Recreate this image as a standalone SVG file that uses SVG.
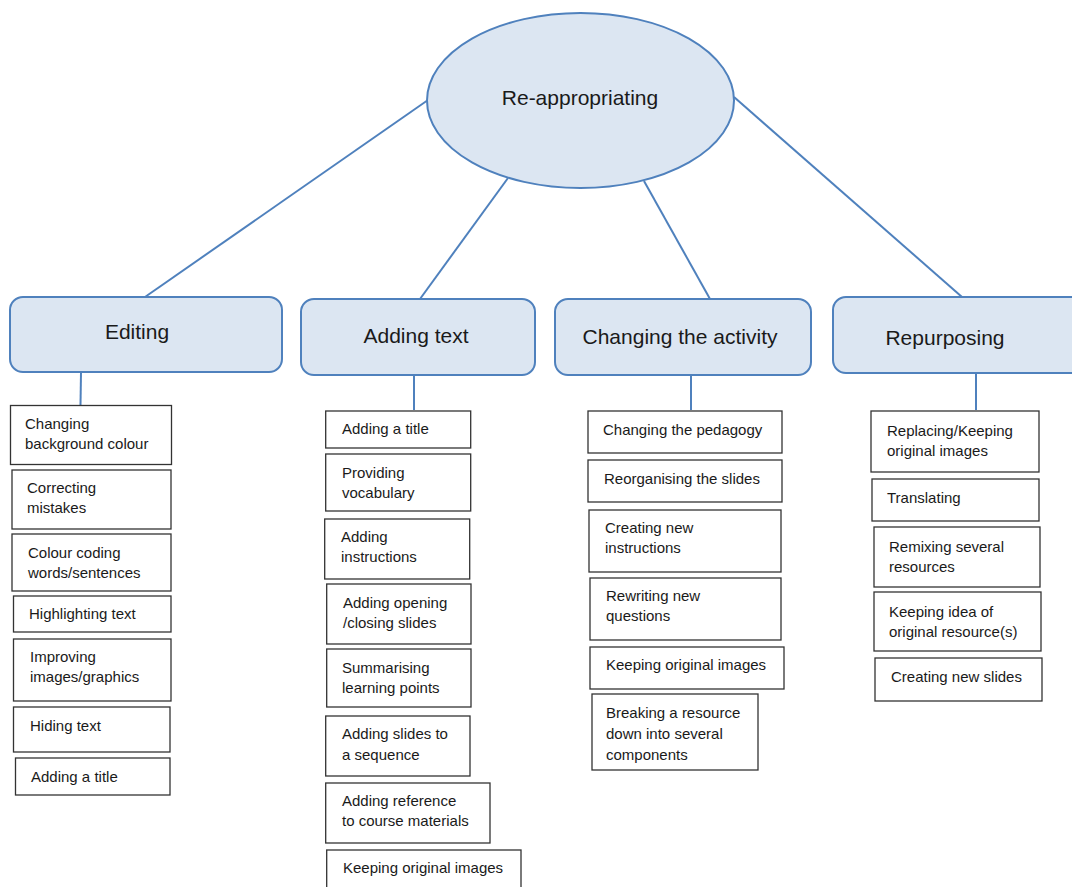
<svg xmlns="http://www.w3.org/2000/svg" width="1072" height="887" viewBox="0 0 1072 887">
<style>
.bg{fill:#ffffff}
.hub{fill:#dce6f2;stroke:#4f81bd;stroke-width:2}
.cat{fill:#dce6f2;stroke:#4f81bd;stroke-width:2}
.leaf{fill:#ffffff;stroke:#333333;stroke-width:1.3}
.conn{stroke:#4f81bd;stroke-width:2;fill:none}
.t1{font-family:"Liberation Sans",Arial,sans-serif;font-size:21px;fill:#1a1a1a;text-anchor:middle}
.t2{font-family:"Liberation Sans",Arial,sans-serif;font-size:15px;fill:#1a1a1a}
</style>
<rect class="bg" x="0" y="0" width="1072" height="887"/>
<g id="connectors">
<line class="conn" x1="428" y1="100" x2="145" y2="297"/>
<line class="conn" x1="508" y1="178" x2="420" y2="299"/>
<line class="conn" x1="644" y1="181" x2="710" y2="299"/>
<line class="conn" x1="734" y1="97" x2="962" y2="297"/>
<line class="conn" x1="81" y1="372" x2="80.5" y2="405"/>
<line class="conn" x1="414" y1="375" x2="414" y2="410"/>
<line class="conn" x1="691" y1="375" x2="691" y2="410"/>
<line class="conn" x1="976" y1="373" x2="976" y2="410"/>
</g>
<g id="hub">
<ellipse class="hub" cx="580.5" cy="100.5" rx="153.5" ry="87.5"/>
<text class="t1" x="580" y="105">Re-appropriating</text>
</g>
<g id="editing">
<rect class="cat" x="10" y="297" width="272" height="75" rx="13"/>
<text class="t1" x="137" y="339">Editing</text>
</g>
<g id="adding-text">
<rect class="cat" x="301" y="299" width="234" height="76" rx="13"/>
<text class="t1" x="416" y="343">Adding text</text>
</g>
<g id="changing-activity">
<rect class="cat" x="555" y="299" width="256" height="76" rx="13"/>
<text class="t1" x="680" y="344">Changing the activity</text>
</g>
<g id="repurposing">
<rect class="cat" x="833" y="297" width="262" height="76" rx="13"/>
<text class="t1" x="945" y="345">Repurposing</text>
</g>
<g id="e1"><rect class="leaf" x="10.5" y="405.5" width="161" height="59"/><text class="t2" x="25" y="429">Changing</text><text class="t2" x="25" y="449">background colour</text></g>
<g id="e2"><rect class="leaf" x="12" y="470" width="159" height="59"/><text class="t2" x="27" y="493">Correcting</text><text class="t2" x="27" y="513">mistakes</text></g>
<g id="e3"><rect class="leaf" x="12" y="534" width="159" height="57"/><text class="t2" x="28" y="558">Colour coding</text><text class="t2" x="28" y="578">words/sentences</text></g>
<g id="e4"><rect class="leaf" x="13.5" y="596" width="157.5" height="36"/><text class="t2" x="29" y="619">Highlighting text</text></g>
<g id="e5"><rect class="leaf" x="13.5" y="639" width="157.5" height="62"/><text class="t2" x="30" y="662">Improving</text><text class="t2" x="30" y="682">images/graphics</text></g>
<g id="e6"><rect class="leaf" x="13.5" y="707" width="156.5" height="45"/><text class="t2" x="30" y="731">Hiding text</text></g>
<g id="e7"><rect class="leaf" x="15.5" y="758" width="154.5" height="37"/><text class="t2" x="31" y="782">Adding a title</text></g>
<g id="a1"><rect class="leaf" x="325.7" y="411" width="145" height="37"/><text class="t2" x="342" y="434">Adding a title</text></g>
<g id="a2"><rect class="leaf" x="325.7" y="454" width="145" height="57"/><text class="t2" x="342" y="478">Providing</text><text class="t2" x="342" y="498">vocabulary</text></g>
<g id="a3"><rect class="leaf" x="324.7" y="519" width="145" height="60"/><text class="t2" x="341" y="542">Adding</text><text class="t2" x="341" y="562">instructions</text></g>
<g id="a4"><rect class="leaf" x="326.7" y="584" width="144.3" height="60"/><text class="t2" x="343" y="608">Adding opening</text><text class="t2" x="343" y="628">/closing slides</text></g>
<g id="a5"><rect class="leaf" x="326.7" y="649" width="144.3" height="58"/><text class="t2" x="342" y="673">Summarising</text><text class="t2" x="342" y="693">learning points</text></g>
<g id="a6"><rect class="leaf" x="325.7" y="716" width="144.3" height="60"/><text class="t2" x="342" y="739">Adding slides to</text><text class="t2" x="342" y="760">a sequence</text></g>
<g id="a7"><rect class="leaf" x="325.7" y="783" width="164.3" height="60"/><text class="t2" x="342" y="806">Adding reference</text><text class="t2" x="342" y="826">to course materials</text></g>
<g id="a8"><rect class="leaf" x="326.7" y="850" width="194.3" height="50"/><text class="t2" x="343" y="873">Keeping original images</text></g>
<g id="c1"><rect class="leaf" x="588" y="411" width="194" height="42"/><text class="t2" x="603" y="435">Changing the pedagogy</text></g>
<g id="c2"><rect class="leaf" x="588" y="460" width="194" height="42"/><text class="t2" x="604" y="484">Reorganising the slides</text></g>
<g id="c3"><rect class="leaf" x="589" y="510" width="192" height="62"/><text class="t2" x="605" y="533">Creating new</text><text class="t2" x="605" y="553">instructions</text></g>
<g id="c4"><rect class="leaf" x="590" y="578" width="191" height="62"/><text class="t2" x="606" y="601">Rewriting new</text><text class="t2" x="606" y="621">questions</text></g>
<g id="c5"><rect class="leaf" x="590" y="647" width="194" height="42"/><text class="t2" x="606" y="670">Keeping original images</text></g>
<g id="c6"><rect class="leaf" x="592" y="694" width="166" height="76"/><text class="t2" x="606" y="718">Breaking a resource</text><text class="t2" x="606" y="739">down into several</text><text class="t2" x="606" y="760">components</text></g>
<g id="r1"><rect class="leaf" x="871" y="411" width="168" height="61"/><text class="t2" x="887" y="436">Replacing/Keeping</text><text class="t2" x="887" y="456">original images</text></g>
<g id="r2"><rect class="leaf" x="872" y="479" width="167" height="42"/><text class="t2" x="887" y="503">Translating</text></g>
<g id="r3"><rect class="leaf" x="874" y="527" width="166" height="60"/><text class="t2" x="889" y="552">Remixing several</text><text class="t2" x="889" y="572">resources</text></g>
<g id="r4"><rect class="leaf" x="874" y="592" width="167" height="59"/><text class="t2" x="889" y="617">Keeping idea of</text><text class="t2" x="889" y="637">original resource(s)</text></g>
<g id="r5"><rect class="leaf" x="875" y="658" width="167" height="43"/><text class="t2" x="891" y="682">Creating new slides</text></g>
</svg>
